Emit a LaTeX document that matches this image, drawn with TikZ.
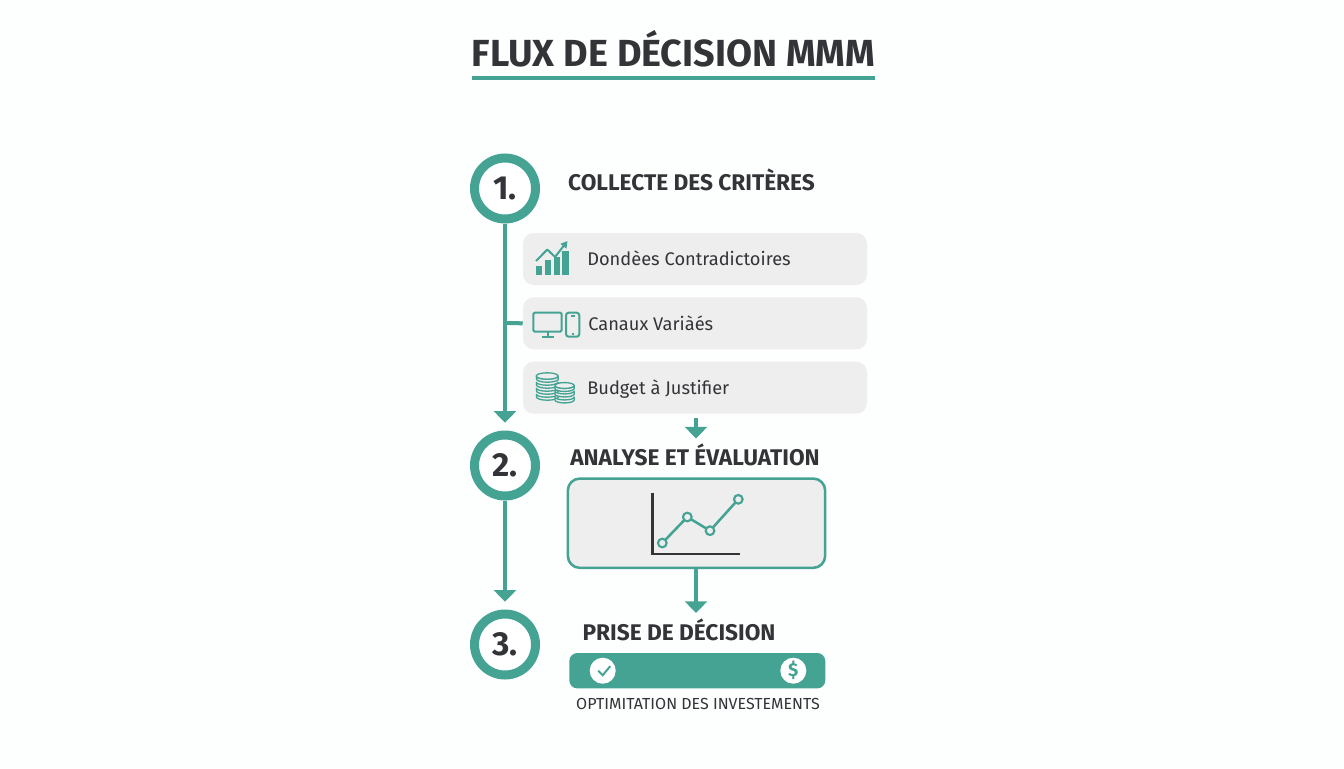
\documentclass[tikz,border=0pt]{standalone}
\usepackage{xcolor}
\usepackage{fontspec}
\setmainfont{Fira Sans}
\usetikzlibrary{arrows.meta, positioning, calc}

\definecolor{tealmain}{HTML}{45A394}
\definecolor{inkdark}{HTML}{333438}
\definecolor{panelgray}{HTML}{EEEEEE}

\tikzset{
  stepring/.style={circle, draw=tealmain, line width=6.75pt, fill=white, minimum size=45.75pt, inner sep=0pt,
    text=inkdark, font=\fontsize{25}{25}\selectfont\bfseries},
  flowarrow/.style={draw=tealmain, line width=3pt, -{Triangle[width=16.5pt,length=8.8pt]}},
  heading/.style={text=inkdark, inner sep=0pt, font=\fontsize{17}{18}\selectfont\bfseries},
  itembox/.style={rectangle, rounded corners=8pt, fill=panelgray, minimum width=258pt, minimum height=39pt},
  itemtext/.style={anchor=base west, text=inkdark, inner sep=0pt, font=\fontsize{13.7}{16}\selectfont},
  iconline/.style={draw=tealmain, line width=1.5pt, line join=round},
  badge/.style={circle, fill=white, minimum size=19.5pt, inner sep=0pt},
  dotmark/.style={circle, draw=tealmain, line width=1.6pt, fill=panelgray, minimum size=6.5pt, inner sep=0pt}
}

\begin{document}
\begin{tikzpicture}[x=0.75pt, y=-0.75pt]
  \useasboundingbox (0,0) rectangle (1344,768);
  \fill[white!99!tealmain] (0,0) rectangle (1344,768);

  % title
  \node[text=inkdark, inner sep=0pt, font=\fontsize{28.3}{30}\selectfont\bfseries] (title) at (673.5,49) {FLUX DE DÉCISION MMM};
  \fill[tealmain] (472,75.7) rectangle (875,80.3);

  % steps
  \node[stepring] (stepone) at (505,188.5) {1.};
  \node[stepring] (steptwo) at (505,465.5) {2.};
  \node[stepring] (stepthree) at (505,644.5) {3.};

  % panels
  \node[itembox] (dataBox) at (695,259) {};
  \node[itembox] (channelBox) at (695,323.3) {};
  \node[itembox] (budgetBox) at (695,387.7) {};
  \node[rectangle, rounded corners=9pt, draw=tealmain, line width=1.9pt, fill=panelgray,
    minimum width=193pt, minimum height=67pt] (chartBox) at (696.5,523.2) {};
  \node[rectangle, rounded corners=6pt, fill=tealmain, minimum width=192pt, minimum height=26.5pt] (decisionBar) at (697.3,670.7) {};

  % headings
  \node[heading] (collectTitle) at (691.5,180) {COLLECTE DES CRITÈRES};
  \node[heading] (analyseTitle) at (695,455) {ANALYSE ET ÉVALUATION};
  \node[heading] (decisionTitle) at (679,630) {PRISE DE DÉCISION};

  % item labels
  \node[itemtext] (dataText) at (587,265) {Dondèes Contradictoires};
  \node[itemtext] (channelText) at (588,330) {Canaux Variàés};
  \node[itemtext] (budgetText) at (587,394.5) {Budget à Justifier};
  \node[text=inkdark, inner sep=0pt, font=\fontsize{12}{14}\selectfont] (investText) at (698,703.5) {OPTIMITATION DES INVESTEMENTS};

  % connectors
  \coordinate (budgetOut) at (696,418);
  \coordinate (analyseIn) at (696,438.5);
  \coordinate (decisionIn) at (696,613);
  \draw[flowarrow, shorten >=5.8pt] (stepone) -- (steptwo);
  \draw[flowarrow, shorten >=5.8pt] (steptwo) -- (stepthree);
  \draw[flowarrow] (budgetOut) -- (analyseIn);
  \draw[flowarrow] (chartBox.south -| decisionIn) -- (decisionIn);
  \coordinate (stubStart) at (505,323);
  \draw[tealmain, line width=3pt] (stubStart) -- (channelBox.west);

  % bar chart icon
  \foreach \xa/\ytop in {536/266, 545/260, 554/256.7, 562.3/250.7}
    \fill[tealmain] (\xa,\ytop) rectangle ({\xa+6.2},275);
  \draw[iconline, -{Triangle[width=5.5pt,length=5pt]}] (536,261) -- (547.3,249.5) -- (555,257) -- (567.5,241);

  % screen icon
  \draw[iconline, rounded corners=1pt] (533.3,312.7) rectangle (561.7,331.7);
  \draw[iconline] (547.5,331.7) -- (547.5,336.5) (541.7,336.5) -- (554.3,336.5);
  \draw[iconline, rounded corners=2pt] (566,312.7) rectangle (579.3,336.7);
  \draw[iconline] (571,315.5) -- (574.5,315.5) (571.5,333.5) -- (574,333.5);

  % coin icon
  \foreach \ytop in {394,388,382,376} {
    \draw[iconline, line width=1pt, fill=panelgray] (536.5,\ytop) -- (536.5,{\ytop+3}) arc (180:360:8.2pt and 2.4pt) -- (558,\ytop) arc (0:-180:8.2pt and 2.4pt);
  }
  \draw[iconline, line width=1pt, fill=panelgray] (547.2,376) ellipse (8.2pt and 2.4pt);
  \foreach \ytop in {397,391,385.5} {
    \draw[iconline, line width=1pt, fill=panelgray] (555,\ytop) -- (555,{\ytop+3}) arc (180:360:7.2pt and 2.2pt) -- (574.2,\ytop) arc (0:-180:7.2pt and 2.2pt);
  }
  \draw[iconline, line width=1pt, fill=panelgray] (564.6,385.5) ellipse (7.2pt and 2.2pt);

  % line chart
  \draw[inkdark, line width=1.9pt] (652.7,493.3) -- (652.7,554) -- (740,554);
  \draw[tealmain, line width=1.9pt] (662.3,543) -- (687.3,517) -- (710,530.7) -- (738.3,499.3);
  \node[dotmark] (ptA) at (662.3,543) {};
  \node[dotmark] (ptB) at (687.3,517) {};
  \node[dotmark] (ptC) at (710,530.7) {};
  \node[dotmark] (ptD) at (738.3,499.3) {};

  % badges
  \node[badge] (checkBadge) at (602.7,670.7) {};
  \node[badge, text=tealmain, font=\fontsize{14}{14}\selectfont\bfseries] (dollarBadge) at (793.3,670.7) {\$};
  \draw[tealmain, line width=1.5pt] ($(checkBadge)+(-4.5,0)$) -- ($(checkBadge)+(0,4.5)$) -- ($(checkBadge)+(7.5,-4.5)$);
\end{tikzpicture}
\end{document}
